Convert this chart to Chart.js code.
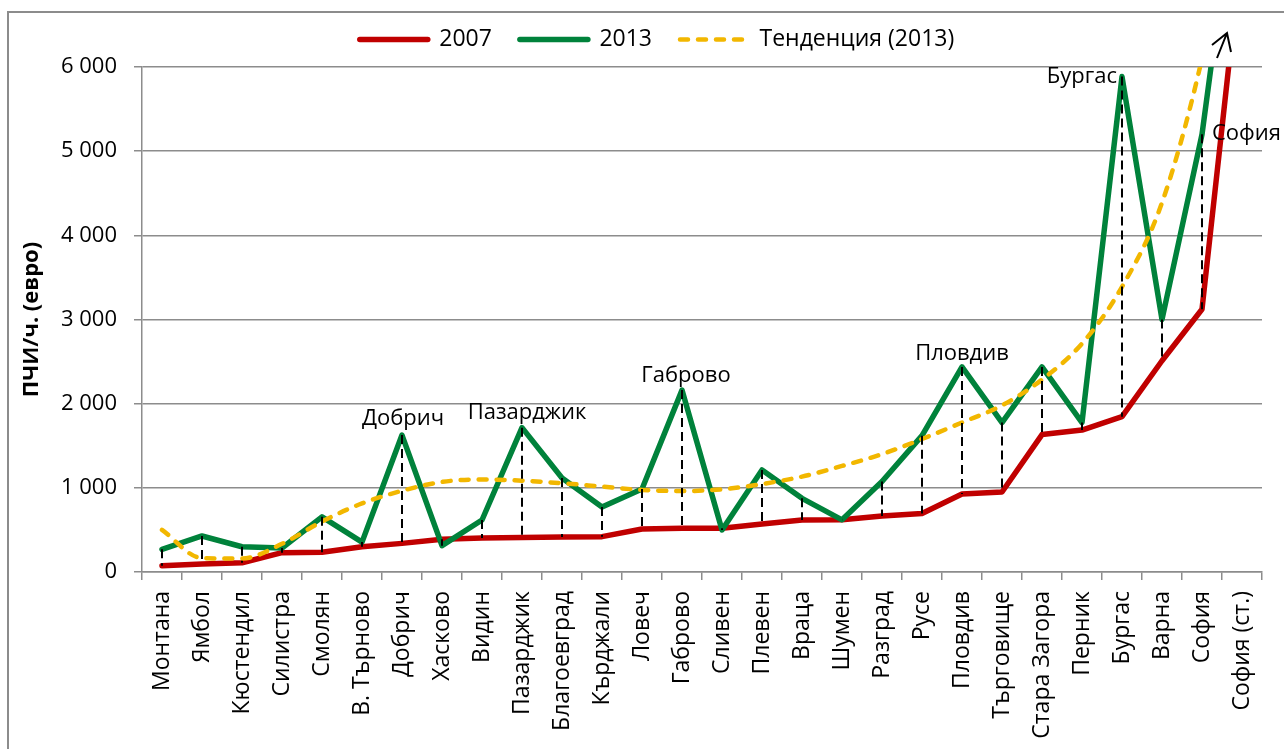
<!DOCTYPE html>
<html lang="bg">
<head>
<meta charset="utf-8">
<title>ПЧИ на човек по области, 2007 и 2013</title>
<script src="https://cdn.jsdelivr.net/npm/chart.js@4.4.1/dist/chart.umd.min.js"></script>
<style>
  html, body { margin: 0; padding: 0; background: #fff; }
  #wrap { position: relative; width: 1284px; height: 749px; overflow: hidden; }
  #frame { position: absolute; left: 7px; top: 11px; right: -10px; bottom: -10px;
           border-left: 2px solid #8c8c8c; border-top: 2px solid #8c8c8c; }
  canvas { position: absolute; left: 0; top: 0; }
</style>
</head>
<body>
<div id="wrap"><div id="frame"></div><canvas id="chart" width="1284" height="749"></canvas></div>
<script>
/* FDI per capita by district, 2007 vs 2013, with the 2013 trend line. */

const FONT = '"Open Sans", "Noto Sans", sans-serif';
const COLORS = {
  red: "#c00000",
  green: "#00823b",
  trend: "#f2b700",
  grid: "#8c8c8c",
  ink: "#000",
};

const REGIONS = [
  "Монтана", "Ямбол", "Кюстендил", "Силистра", "Смолян", "В. Търново", "Добрич",
  "Хасково", "Видин", "Пазарджик", "Благоевград", "Кърджали", "Ловеч", "Габрово",
  "Сливен", "Плевен", "Враца", "Шумен", "Разград", "Русе", "Пловдив", "Търговище",
  "Стара Загора", "Перник", "Бургас", "Варна", "София", "София (ст.)",
];
const FDI_2007 = [
  75, 95, 110, 230, 235, 300, 340, 388, 405, 410, 415, 420, 511, 520,
  520, 570, 618, 620, 665, 695, 927, 951, 1633, 1686, 1845, 2510, 3122, 7440,
];
const FDI_2013 = [
  270, 428, 300, 285, 655, 355, 1627, 313, 618, 1715, 1116, 772, 986, 2161,
  500, 1212, 875, 620, 1075, 1620, 2437, 1776, 2437, 1776, 5886, 3000, 5200, 8750,
];
const TREND_2013 = [
  500, 165, 160, 335, 600, 815, 965, 1070, 1100, 1085, 1055, 1015, 975, 962,
  982, 1045, 1133, 1260, 1400, 1580, 1776, 1980, 2286, 2714, 3388, 4388, 6100, 8500,
];
const Y_TICKS = [0, 1000, 2000, 3000, 4000, 5000, 6000];
const CALLOUTS = ["Добрич", "Пазарджик", "Габрово", "Пловдив", "Бургас", "София"];

// where each callout sits relative to its 2013 point
const CALLOUT_STYLE = {
  "Добрич":    { align: "center", dx: 1, dy: -16 },
  "Пазарджик": { align: "center", dx: 5, dy: -15 },
  "Габрово":   { align: "center", dx: 4, dy: -14 },
  "Пловдив":   { align: "center", dx: 0, dy: -13 },
  "Бургас":    { align: "right", dx: -5, dy: 0 },
  "София":     { align: "left", dx: 10, dy: -1 },
};

function fmt(v) { return String(v).replace(/\B(?=(\d{3})+(?!\d))/g, " "); }

/* ---------- plugins ---------- */

// fixed legend band height so the plot starts where the original does
const legendBand = {
  id: "legendBand",
  beforeLayout(chart) {
    const lg = chart.legend;
    if (!lg || lg._patched) return;
    const fit = lg.fit;
    lg.fit = function () { fit.call(this); this.height = 67; };
    lg._patched = true;
  },
};

// dashed high-low lines between the two years
const hiLoLines = {
  id: "hiLoLines",
  afterDatasetsDraw(chart) {
    const { ctx, chartArea: a, scales: { x, y } } = chart;
    ctx.save();
    ctx.beginPath();
    ctx.rect(a.left, a.top, a.right - a.left, a.bottom - a.top);
    ctx.clip();
    ctx.strokeStyle = COLORS.ink;
    ctx.lineWidth = 2;
    ctx.setLineDash([9, 5]);
    REGIONS.forEach((_, i) => {
      const hi = Math.max(FDI_2007[i], FDI_2013[i]);
      const lo = Math.min(FDI_2007[i], FDI_2013[i]);
      const px = Math.round(x.getPixelForValue(i));
      ctx.beginPath();
      ctx.moveTo(px, y.getPixelForValue(hi));
      ctx.lineTo(px, y.getPixelForValue(lo));
      ctx.stroke();
    });
    ctx.restore();
  },
};

// region names at the notable peaks + the "off the scale" arrow
const callouts = {
  id: "callouts",
  afterDraw(chart) {
    const { ctx, chartArea: a, scales: { x, y } } = chart;
    ctx.save();
    ctx.font = `22px ${FONT}`;
    ctx.fillStyle = COLORS.ink;
    ctx.textBaseline = "middle";
    CALLOUTS.forEach(name => {
      const i = REGIONS.indexOf(name);
      const s = CALLOUT_STYLE[name];
      ctx.textAlign = s.align;
      ctx.fillText(name, x.getPixelForValue(i) + s.dx, y.getPixelForValue(FDI_2013[i]) + s.dy);
    });

    const bx = x.getPixelForValue(REGIONS.indexOf("София"));
    ctx.strokeStyle = COLORS.ink;
    ctx.lineWidth = 2;
    ctx.beginPath();
    ctx.moveTo(bx + 15, a.top - 9);
    ctx.lineTo(bx + 25, a.top - 34);
    ctx.moveTo(bx + 10, a.top - 22);
    ctx.lineTo(bx + 25, a.top - 34);
    ctx.lineTo(bx + 29, a.top - 15);
    ctx.stroke();
    ctx.restore();
  },
};

/* ---------- chart ---------- */

const lineBase = { pointRadius: 0, pointHoverRadius: 0, fill: false, borderCapStyle: "round", borderJoinStyle: "round" };

new Chart(document.getElementById("chart"), {
  type: "line",
  data: {
    labels: REGIONS,
    datasets: [
      { ...lineBase, label: "2007", data: FDI_2007, borderColor: COLORS.red, backgroundColor: COLORS.red,
        borderWidth: 5.5, tension: 0, order: 3 },
      { ...lineBase, label: "2013", data: FDI_2013, borderColor: COLORS.green, backgroundColor: COLORS.green,
        borderWidth: 5.5, tension: 0, order: 2 },
      { ...lineBase, label: "Тенденция (2013)", data: TREND_2013, borderColor: COLORS.trend,
        backgroundColor: COLORS.trend, borderWidth: 4.5, borderDash: [8, 10],
        cubicInterpolationMode: "monotone", order: 1 },
    ],
  },
  options: {
    responsive: false,
    animation: false,
    events: [],
    // left padding only centres the legend like the original; y axis is narrowed to match
    layout: { padding: { left: 52, right: 22, top: 0, bottom: 0 } },
    plugins: {
      tooltip: { enabled: false },
      legend: {
        position: "top",
        labels: {
          font: { family: FONT, size: 23 },
          color: COLORS.ink,
          usePointStyle: true,
          pointStyleWidth: 68,
          padding: 28,
          generateLabels: chart => chart.data.datasets.map((ds, i) => ({
            text: ds.label,
            datasetIndex: i,
            fillStyle: ds.borderColor,
            strokeStyle: ds.borderColor,
            lineWidth: ds.borderWidth,
            lineDash: ds.borderDash || [],
            lineCap: "round",
            pointStyle: "line",
            fontColor: COLORS.ink,
            hidden: false,
          })),
        },
      },
    },
    scales: {
      x: {
        offset: true,
        afterFit: s => { s.height = 177; },
        border: { color: COLORS.grid, width: 1.5 },
        grid: { offset: true, drawOnChartArea: false, color: COLORS.grid, lineWidth: 1.5, tickLength: 8 },
        ticks: { font: { family: FONT, size: 23 }, color: COLORS.ink, minRotation: 90, maxRotation: 90,
                 autoSkip: false, padding: 11 },
      },
      y: {
        min: 0,
        max: 6000,
        afterBuildTicks: s => { s.ticks = Y_TICKS.map(v => ({ value: v })); },
        afterFit: s => { s.width = 90; },
        border: { color: COLORS.grid, width: 1.5 },
        grid: { color: COLORS.grid, lineWidth: 1.5, tickLength: 8 },
        ticks: { font: { family: FONT, size: 22 }, color: COLORS.ink, padding: 17, callback: v => fmt(v) },
        title: { display: true, text: "ПЧИ/ч. (евро)", color: COLORS.ink,
                 font: { family: FONT, size: 22, weight: "bold" }, padding: { top: -33, bottom: 0 } },
      },
    },
  },
  plugins: [legendBand, hiLoLines, callouts],
});
</script>
</body>
</html>
